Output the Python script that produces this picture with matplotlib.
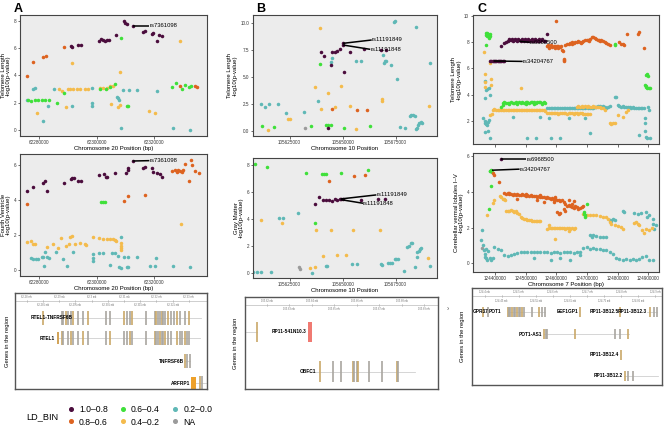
import matplotlib

matplotlib.use("Agg")
import matplotlib.pyplot as plt  # noqa: E402
from matplotlib.lines import Line2D  # noqa: E402
from matplotlib.patches import Rectangle  # noqa: E402

plt.rcParams["font.family"] = ["Liberation Sans", "DejaVu Sans"]

W, H = 666, 432

# ---------------------------------------------------------------------------
# LD bins
# ---------------------------------------------------------------------------
LD_LABELS = ["1.0–0.8", "0.8–0.6", "0.6–0.4", "0.4–0.2", "0.2–0.0", "NA"]
LD_COLORS = ["#4b0d3d", "#dd6320", "#3fe03a", "#f4bb4c", "#5fb8b6", "#9b9b9b"]

# ---------------------------------------------------------------------------
# Panel A: chr20, positions in kb, -log10(p)
# ---------------------------------------------------------------------------
A1_p = [(62291.0, 6.15), (62291.5, 6.05), (62293.4, 6.2), (62294.4, 6.2), (62300.9, 6.51),
        (62301.7, 6.68), (62302.3, 6.59), (62302.9, 6.51), (62303.5, 6.59), (62304.3, 6.59),
        (62306.6, 6.93), (62309.5, 8.0), (62309.9, 7.85), (62310.7, 7.76), (62312.6, 7.61),
        (62316.3, 7.15), (62316.9, 7.27), (62319.2, 7.02), (62319.8, 7.07), (62320.9, 6.51),
        (62321.9, 6.93), (62322.9, 6.9)]
A1_r = [(62275.9, 3.95), (62277.9, 4.98), (62281.4, 5.37), (62282.3, 5.41), (62288.7, 6.05),
        (62329.1, 3.24), (62334.3, 3.22), (62335.1, 3.17)]
A1_g = [(62308.4, 6.76), (62276.2, 2.2), (62277.3, 2.15), (62278.5, 2.2), (62279.7, 2.2),
        (62280.8, 2.2), (62282.0, 2.2), (62283.5, 2.2), (62286.3, 2.0), (62288.6, 2.73),
        (62301.2, 2.98), (62303.3, 2.98), (62304.7, 3.12), (62306.4, 3.37), (62310.5, 1.76),
        (62311.1, 1.76), (62326.2, 3.17), (62327.7, 3.46), (62329.7, 2.98), (62330.8, 3.29),
        (62332.3, 3.12), (62332.9, 3.22)]
A1_o = [(62279.4, 1.27), (62286.9, 2.98), (62287.8, 2.88), (62289.5, 1.71), (62291.6, 4.88),
        (62289.9, 3.0), (62290.9, 3.0), (62291.9, 3.0), (62293.0, 2.98), (62294.2, 2.98),
        (62295.9, 2.98), (62297.1, 2.98), (62301.2, 3.1), (62302.3, 3.1), (62303.7, 3.1),
        (62304.7, 3.2), (62305.6, 3.2), (62305.0, 1.9), (62308.1, 4.27), (62307.6, 1.7),
        (62308.1, 1.83), (62318.4, 1.39), (62320.4, 1.27), (62329.1, 6.51)]
A1_t = [(62275.9, 2.2), (62277.9, 2.98), (62278.5, 3.05), (62281.4, 0.66), (62282.9, 1.76),
        (62285.2, 2.98), (62291.6, 1.76), (62298.3, 1.76), (62298.5, 1.95), (62298.3, 3.05),
        (62307.2, 2.44), (62307.6, 2.32), (62307.9, 2.2), (62308.4, 0.12), (62309.3, 2.93),
        (62311.4, 2.93), (62314.0, 2.93), (62320.9, 2.88), (62326.5, 0.12), (62332.6, 0.0)]
A1_n = []

A2_p = [(62275.9, 4.51), (62277.9, 4.72), (62281.4, 4.95), (62282.0, 5.09), (62282.6, 4.53),
        (62288.7, 4.95), (62291.0, 5.22), (62291.5, 5.26), (62292.1, 5.28), (62293.4, 5.1),
        (62294.5, 5.1), (62300.9, 5.43), (62302.7, 5.47), (62303.3, 5.33), (62303.8, 5.33),
        (62306.4, 5.52), (62310.1, 5.52), (62311.1, 5.71), (62311.1, 5.81), (62312.6, 6.23),
        (62316.1, 5.85), (62316.9, 5.87), (62319.2, 5.81), (62319.8, 5.58), (62320.9, 5.52),
        (62322.1, 5.49), (62322.9, 5.33)]
A2_r = [(62275.9, 3.77), (62309.7, 3.96), (62311.1, 4.23), (62316.9, 4.29), (62326.2, 5.66),
        (62327.3, 5.71), (62327.9, 5.58), (62328.5, 5.71), (62329.1, 5.66), (62329.7, 5.58),
        (62330.0, 5.71), (62330.8, 6.06), (62332.2, 5.09), (62332.9, 6.29), (62333.4, 6.0),
        (62334.3, 5.66), (62335.7, 5.56)]
A2_g = [(62301.7, 3.87), (62302.3, 3.87), (62302.9, 3.87)]
A2_o = [(62275.9, 1.62), (62277.0, 1.66), (62277.9, 1.47), (62278.5, 1.47), (62282.6, 1.33),
        (62284.9, 1.47), (62286.6, 1.28), (62287.6, 1.81), (62289.5, 1.37), (62290.4, 1.47),
        (62290.9, 1.9), (62291.3, 1.94), (62292.4, 1.47), (62294.2, 1.52), (62295.9, 1.47),
        (62296.3, 1.43), (62298.6, 1.87), (62300.9, 1.85), (62302.1, 1.75), (62303.8, 1.75),
        (62304.7, 1.75), (62305.8, 1.75), (62306.4, 1.71), (62306.7, 1.68), (62308.4, 1.52),
        (62308.4, 1.37), (62308.4, 1.24), (62308.4, 1.14), (62329.3, 2.61)]
A2_t = [(62277.0, 0.67), (62277.9, 0.61), (62278.8, 0.61), (62279.7, 0.61), (62280.8, 0.76),
        (62281.4, 0.76), (62282.0, 1.01), (62282.8, 0.76), (62283.5, 0.67), (62281.7, 0.23),
        (62285.8, 1.01), (62288.4, 0.61), (62289.8, 0.23), (62291.9, 1.01), (62298.6, 0.67),
        (62298.6, 0.51), (62298.8, 0.91), (62300.9, 0.99), (62302.3, 0.99), (62304.7, 0.29),
        (62305.5, 0.99), (62306.4, 0.99), (62307.6, 0.8), (62308.4, 1.9), (62307.9, 0.19),
        (62308.4, 0.1), (62309.5, 0.76), (62311.1, 0.76), (62310.5, 0.19), (62311.1, 0.19),
        (62314.0, 0.72), (62318.6, 0.23), (62320.4, 0.23), (62320.7, 0.67), (62326.8, 0.23),
        (62332.6, 0.19)]
A2_n = []

# ---------------------------------------------------------------------------
# Panel B: chr10
# ---------------------------------------------------------------------------
B1_p = [(105639.6, 7.3), (105641.0, 6.99), (105644.3, 6.12), (105645.1, 7.3), (105646.2, 7.3),
        (105647.3, 7.45), (105648.6, 7.58), (105650.2, 8.14), (105650.2, 7.98), (105650.6, 5.5),
        (105653.3, 7.3), (105660.1, 7.58), (105667.9, 7.52), (105670.6, 7.52), (105643.1, 0.28)]
B1_r = [(105645.1, 1.99), (105656.8, 1.93), (105661.6, 1.93)]
B1_g = [(105612.0, 0.43), (105617.6, 0.37), (105634.9, 0.47), (105639.5, 6.21), (105642.3, 0.53),
        (105643.1, 0.53), (105644.3, 0.53), (105650.6, 0.28), (105662.7, 0.43)]
B1_o = [(105614.8, 0.06), (105624.2, 1.12), (105625.0, 1.12), (105636.8, 4.1), (105639.5, 9.53),
        (105639.9, 2.02), (105643.1, 3.54), (105646.2, 2.17), (105649.4, 4.19), (105653.6, 2.3),
        (105656.4, 0.16), (105668.7, 2.8), (105668.7, 2.95), (105690.6, 2.33)]
B1_t = [(105611.3, 2.45), (105613.5, 2.24), (105615.3, 2.45), (105619.5, 2.45), (105623.1, 1.62),
        (105631.6, 1.77), (105638.4, 2.8), (105644.3, 6.43), (105645.0, 6.74), (105656.4, 6.52),
        (105658.8, 6.52), (105669.0, 7.05), (105669.5, 6.33), (105670.1, 6.46), (105670.6, 6.52),
        (105672.6, 6.12), (105674.2, 10.15), (105674.8, 10.22), (105675.8, 4.81), (105676.9, 0.37),
        (105679.5, 0.28), (105681.6, 1.37), (105682.1, 1.46), (105683.2, 1.46), (105684.3, 1.37),
        (105684.7, 9.69), (105685.1, 0.28), (105685.5, 0.53), (105685.8, 0.75), (105686.8, 0.84),
        (105687.6, 0.75), (105691.0, 6.34), (105684.7, 0.12)]
B1_n = [(105632.1, 0.28)]

B2_p = [(105637.1, 5.1), (105638.7, 5.64), (105640.7, 5.4), (105642.3, 5.4), (105643.5, 5.4),
        (105645.0, 5.35), (105646.2, 5.45), (105647.5, 5.4), (105648.6, 5.45), (105649.4, 5.45),
        (105650.2, 5.45), (105658.5, 5.4), (105666.7, 5.45), (105669.8, 5.45)]
B2_r = [(105643.4, 6.81), (105655.2, 7.2), (105660.4, 7.25)]
B2_g = [(105608.5, 8.04), (105614.5, 7.87), (105632.5, 7.43), (105640.2, 7.33), (105641.2, 7.33),
        (105642.0, 7.33), (105649.1, 7.43), (105661.9, 7.62), (105637.1, 3.66)]
B2_o = [(105611.6, 3.91), (105621.4, 3.71), (105634.7, 0.32), (105637.1, 0.4), (105637.4, 3.17),
        (105640.7, 1.24), (105644.7, 3.17), (105647.3, 1.29), (105651.7, 1.29), (105654.7, 3.17),
        (105667.6, 3.17), (105690.2, 1.06)]
B2_t = [(105607.9, 0.07), (105609.6, 0.07), (105611.6, 0.07), (105616.4, 0.07), (105619.8, 4.03),
        (105621.9, 4.03), (105628.9, 4.46), (105635.7, 0.0), (105642.0, 0.5), (105642.6, 0.5),
        (105654.6, 0.62), (105656.9, 0.62), (105667.9, 0.62), (105668.7, 0.57), (105671.4, 0.74),
        (105672.5, 0.74), (105673.4, 0.74), (105674.5, 0.99), (105675.3, 0.99), (105676.1, 0.99),
        (105678.8, 0.15), (105680.5, 1.93), (105681.3, 1.98), (105682.4, 2.18), (105682.7, 2.23),
        (105684.0, 0.45), (105684.9, 1.56), (105685.2, 1.19), (105686.0, 1.61), (105686.6, 1.73),
        (105687.1, 1.81), (105691.0, 0.52)]
B2_n = [(105629.2, 0.4), (105629.7, 0.25)]

# ---------------------------------------------------------------------------
# Panel C: chr7
# ---------------------------------------------------------------------------
C1_p = [(124385, 6.55), (124388, 6.58), (124392, 6.55), (124396, 6.6), (124400, 6.55),
        (124404, 6.57), (124408, 6.55), (124412, 6.58), (124416, 6.55), (124420, 6.56),
        (124425, 6.55), (124430, 6.57), (124419, 7.7), (124430, 7.94), (124436, 8.05),
        (124441, 8.12), (124446, 8.15), (124451, 8.18), (124457, 8.12), (124462, 8.15),
        (124467, 8.18), (124473, 8.12), (124478, 8.15), (124484, 8.1), (124489, 8.15),
        (124495, 8.12), (124500, 8.15), (124505, 8.1), (124511, 8.12), (124516, 8.15),
        (124522, 8.1), (124527, 8.12), (124532, 8.15), (124538, 8.12), (124543, 8.1),
        (124548, 8.12), (124554, 8.15), (124559, 8.1), (124564, 8.12), (124570, 8.63),
        (124444, 8.24), (124454, 8.26), (124465, 8.24), (124476, 8.26), (124487, 8.24),
        (124498, 8.26), (124509, 8.24), (124520, 8.26), (124531, 8.24), (124542, 8.26),
        (124553, 8.24)]
C1_r = [(124570, 7.69), (124575, 7.56), (124581, 7.69), (124586, 7.62), (124591, 7.69),
        (124597, 7.74), (124602, 7.69), (124607, 7.74), (124613, 7.64), (124618, 7.43),
        (124621, 7.31), (124624, 6.72), (124624, 6.54), (124626, 6.62), (124629, 7.82),
        (124634, 7.89), (124640, 7.87), (124645, 7.94), (124650, 8.0), (124656, 7.94),
        (124661, 8.0), (124667, 8.0), (124672, 8.07), (124677, 8.02), (124683, 8.05),
        (124688, 8.07), (124694, 8.15), (124699, 8.15), (124704, 8.2), (124710, 8.25),
        (124715, 8.38), (124720, 8.4), (124726, 8.33), (124731, 8.25), (124736, 8.2),
        (124742, 8.07), (124747, 8.15), (124753, 8.07), (124758, 8.0), (124763, 7.94),
        (124769, 7.87), (124774, 7.82), (124806, 8.0), (124812, 7.89), (124817, 7.89),
        (124822, 7.82), (124831, 8.66), (124865, 8.66), (124871, 8.79), (124885, 7.56),
        (124599, 9.65), (124573, 7.8), (124584, 7.78), (124595, 7.6), (124605, 7.6),
        (124616, 7.7), (124652, 7.85), (124680, 7.95), (124708, 8.1), (124740, 8.15)]
C1_g = [(124369, 8.71), (124371, 8.58), (124374, 8.45), (124376, 8.58), (124379, 8.4),
        (124382, 8.5), (124385, 8.66), (124380, 8.33), (124373, 8.7), (124377, 8.62),
        (124371, 7.82), (124419, 3.1), (124425, 3.35), (124430, 3.48), (124436, 3.35),
        (124441, 3.4), (124446, 3.38), (124451, 3.42), (124457, 3.38), (124462, 3.4),
        (124467, 3.42), (124473, 3.38), (124478, 3.42), (124484, 3.4), (124489, 3.44),
        (124495, 3.4), (124500, 3.42), (124505, 3.44), (124511, 3.4), (124516, 3.45),
        (124522, 3.42), (124527, 3.44), (124532, 3.4), (124538, 3.45), (124543, 3.42),
        (124548, 3.44), (124554, 3.4), (124559, 3.42), (124564, 3.38), (124425, 3.25),
        (124446, 3.3), (124473, 3.3), (124500, 3.32), (124527, 3.32), (124554, 3.3),
        (124790, 7.77), (124792, 7.85), (124892, 5.52), (124895, 5.6), (124899, 5.45),
        (124890, 4.76), (124892, 4.58), (124897, 4.5), (124903, 4.5), (124906, 4.5),
        (124894, 4.65)]
C1_o = [(124363, 7.23), (124366, 5.6), (124366, 5.0), (124368, 4.58), (124382, 6.41),
        (124387, 5.19), (124387, 4.76), (124385, 2.46), (124390, 2.5), (124392, 2.84),
        (124398, 2.88), (124403, 2.84), (124409, 2.86), (124414, 2.84), (124419, 2.86),
        (124425, 2.82), (124430, 2.84), (124436, 2.86), (124441, 2.82), (124446, 2.84),
        (124451, 2.8), (124457, 2.84), (124462, 2.82), (124467, 2.8), (124473, 2.84),
        (124478, 2.82), (124484, 2.8), (124489, 2.84), (124495, 2.82), (124500, 2.8),
        (124505, 2.84), (124511, 2.82), (124516, 2.8), (124522, 2.82), (124527, 2.84),
        (124532, 2.8), (124538, 2.82), (124543, 2.8), (124548, 2.82), (124554, 2.8),
        (124559, 2.82), (124564, 2.78), (124570, 2.62), (124575, 2.58), (124581, 2.62),
        (124586, 2.6), (124591, 2.58), (124597, 2.62), (124602, 2.6), (124607, 2.56),
        (124613, 2.6), (124618, 2.58), (124624, 2.62), (124629, 2.6), (124634, 2.56),
        (124640, 2.6), (124645, 2.58), (124650, 2.6), (124656, 2.56), (124661, 2.6),
        (124667, 2.58), (124672, 2.55), (124677, 2.6), (124683, 2.58), (124688, 2.55),
        (124694, 2.52), (124699, 2.55), (124704, 2.5), (124710, 2.52), (124667, 3.1),
        (124672, 3.12), (124677, 3.08), (124683, 3.12), (124688, 3.1), (124694, 3.14),
        (124699, 3.1), (124704, 3.12), (124710, 3.08), (124715, 3.1), (124720, 3.12),
        (124726, 3.06), (124731, 3.1), (124736, 3.05), (124742, 3.08), (124747, 3.02),
        (124753, 2.95), (124758, 2.85), (124484, 4.5), (124774, 1.82), (124779, 1.8),
        (124785, 1.82), (124790, 1.82), (124801, 2.46), (124817, 2.28), (124826, 2.71),
        (124833, 2.84)]
C1_t = [(124366, 5.06), (124369, 4.37), (124374, 4.42), (124379, 4.5), (124366, 3.73),
        (124385, 3.99), (124362, 2.2), (124366, 2.03), (124368, 1.87), (124371, 1.77),
        (124374, 1.69), (124376, 1.95), (124379, 2.1), (124366, 1.18), (124376, 1.23),
        (124385, 0.67), (124457, 2.33), (124548, 2.33), (124570, 2.98), (124575, 3.02),
        (124581, 2.98), (124586, 3.0), (124591, 3.02), (124597, 2.98), (124602, 3.0),
        (124607, 3.02), (124613, 2.98), (124618, 3.0), (124624, 3.02), (124629, 2.98),
        (124634, 3.0), (124640, 3.02), (124645, 2.98), (124650, 3.0), (124656, 3.02),
        (124661, 2.98), (124667, 3.0), (124672, 2.96), (124677, 3.0), (124683, 2.98),
        (124688, 3.02), (124694, 2.98), (124699, 3.05), (124704, 3.0), (124710, 2.98),
        (124715, 3.02), (124720, 3.0), (124726, 3.05), (124731, 3.1), (124736, 3.12),
        (124742, 3.15), (124747, 3.1), (124753, 3.12), (124758, 3.05), (124763, 3.0),
        (124769, 3.1), (124774, 3.15), (124575, 2.25), (124640, 2.2), (124694, 2.2),
        (124710, 1.06), (124505, 0.72), (124532, 0.67), (124581, 0.72), (124613, 0.67),
        (124790, 3.81), (124796, 3.81), (124801, 3.2), (124806, 3.15), (124812, 3.1),
        (124817, 3.12), (124822, 3.08), (124828, 3.1), (124833, 3.05), (124839, 3.08),
        (124844, 3.02), (124849, 3.05), (124855, 3.0), (124860, 3.02), (124865, 2.98),
        (124871, 3.0), (124876, 2.96), (124881, 3.0), (124887, 2.95), (124871, 0.93),
        (124888, 2.2), (124888, 1.82), (124890, 1.2), (124892, 0.8), (124897, 0.67),
        (124906, 0.67), (124903, 2.84), (124900, 3.05)]
C1_n = []

C2_p = [(124421, 5.81)]
C2_r = [(124392, 5.02), (124398, 4.94), (124414, 4.52), (124430, 3.91), (124436, 3.87),
        (124441, 3.91), (124446, 3.87), (124452, 3.87), (124457, 3.84), (124462, 3.87),
        (124468, 3.82), (124473, 3.87), (124479, 3.82), (124484, 3.84), (124489, 3.87),
        (124495, 3.82), (124500, 3.78), (124505, 3.82), (124511, 3.78), (124516, 3.82),
        (124522, 3.78), (124527, 3.75), (124532, 3.78), (124538, 3.73), (124543, 3.75),
        (124548, 3.69), (124554, 3.73), (124559, 3.69), (124565, 3.66), (124570, 3.69),
        (124575, 3.63), (124581, 3.6), (124586, 3.63), (124591, 3.56), (124597, 3.6),
        (124602, 3.51), (124608, 3.54), (124613, 3.47), (124618, 3.51), (124624, 3.41),
        (124629, 3.32), (124634, 3.23), (124640, 3.27), (124645, 3.18), (124651, 3.14),
        (124656, 3.1), (124661, 3.18), (124667, 3.14), (124672, 3.04), (124677, 3.1),
        (124683, 3.14), (124688, 3.18), (124473, 3.6), (124538, 3.51), (124559, 3.45),
        (124602, 2.86), (124608, 2.77), (124613, 2.8), (124624, 3.04), (124629, 2.95),
        (124640, 3.51), (124656, 3.5), (124446, 3.95), (124500, 3.9), (124548, 3.8),
        (124597, 3.7), (124591, 3.4), (124651, 3.3)]
C2_g = [(124382, 5.17), (124385, 5.13), (124387, 5.2), (124390, 5.11), (124387, 4.3),
        (124379, 3.04), (124691, 2.86), (124693, 2.68), (124695, 2.58), (124689, 2.77),
        (124699, 3.32)]
C2_o = [(124374, 2.68), (124392, 3.36), (124398, 3.51), (124417, 3.78), (124421, 3.69),
        (124425, 3.6), (124430, 3.6), (124433, 3.51), (124436, 2.95), (124441, 2.95),
        (124446, 2.92), (124452, 2.97), (124457, 2.95), (124462, 2.86), (124468, 2.9),
        (124473, 2.8), (124479, 2.77), (124484, 2.58), (124489, 2.53), (124495, 2.49),
        (124500, 2.45), (124505, 2.43), (124511, 2.4), (124516, 2.4), (124522, 2.36),
        (124527, 2.34), (124532, 2.36), (124538, 2.34), (124543, 2.36), (124548, 2.36),
        (124570, 1.94), (124575, 2.0), (124581, 1.97), (124586, 2.0), (124591, 1.97),
        (124597, 2.0), (124602, 1.97), (124608, 2.0), (124613, 1.97), (124618, 2.0),
        (124624, 1.97), (124629, 1.94), (124634, 2.0), (124640, 1.97), (124645, 1.94),
        (124651, 1.97), (124656, 1.94), (124661, 1.97), (124575, 2.12), (124594, 1.38),
        (124640, 1.8), (124688, 2.77), (124699, 2.68), (124710, 2.72), (124720, 2.68),
        (124731, 2.68), (124742, 2.64), (124753, 2.6), (124763, 2.58), (124769, 2.49),
        (124774, 2.31), (124779, 2.21), (124790, 2.12), (124801, 2.07), (124812, 2.03),
        (124817, 1.94), (124855, 2.25), (124860, 2.31), (124865, 2.21), (124871, 2.12),
        (124881, 1.85), (124887, 1.7), (124892, 1.9), (124903, 1.85), (124911, 2.0)]
C2_t = [(124357, 1.85), (124355, 1.29), (124360, 1.01), (124363, 0.74), (124366, 0.55),
        (124368, 0.37), (124371, 0.28), (124374, 0.18), (124371, 0.83), (124376, 0.7),
        (124382, 0.28), (124387, 0.18), (124392, 0.28), (124398, 0.92), (124409, 0.83),
        (124419, 0.74), (124430, 0.46), (124441, 0.4), (124452, 0.46), (124462, 0.55),
        (124473, 0.6), (124484, 0.65), (124495, 0.62), (124505, 0.65), (124516, 0.62),
        (124527, 0.65), (124538, 0.62), (124548, 0.65), (124559, 0.62), (124570, 0.65),
        (124581, 0.6), (124591, 0.65), (124602, 0.62), (124613, 0.6), (124624, 0.65),
        (124634, 0.62), (124645, 0.65), (124656, 0.6), (124667, 0.65), (124677, 0.62),
        (124688, 0.87), (124699, 0.9), (124710, 0.83), (124720, 0.87), (124731, 0.83),
        (124742, 0.8), (124753, 0.74), (124763, 0.74), (124774, 0.65), (124785, 0.55),
        (124796, 0.28), (124806, 0.22), (124817, 0.2), (124828, 0.22), (124839, 0.18),
        (124849, 0.22), (124860, 0.2), (124871, 0.22), (124881, 0.37), (124892, 0.4),
        (124903, 0.2), (124914, 0.2), (124527, 0.28), (124581, 0.18), (124613, 0.28),
        (124645, 0.18), (124677, 0.45), (124709, 1.57), (124715, 1.5), (124720, 1.57),
        (124731, 1.53), (124742, 1.5), (124753, 1.48), (124763, 1.45), (124774, 2.4),
        (124779, 2.36), (124785, 2.49), (124790, 2.4), (124817, 2.95), (124822, 2.86),
        (124855, 2.8), (124865, 2.77), (124876, 2.84), (124892, 2.86), (124897, 2.58),
        (124903, 2.68), (124914, 2.49), (124916, 2.21), (124919, 1.94), (124924, 2.12)]
C2_n = [(124356, 0.87)]

# ---------------------------------------------------------------------------
# Gene tracks (positions in Mb)
# ---------------------------------------------------------------------------
A_gene_names = ["RTEL1-TNFRSF6B", "RTEL1", "TNFRSF6B", "ARFRP1"]
A_gene_rows = [0.26, 0.47, 0.71, 0.94]
A_gene_label_x = [62.2942, 62.2888, 62.3284, 62.3303]
A_gene_spans = [(62.2841, 62.3339), (62.2897, 62.3334), (62.3287, 62.3303), (62.3306, 62.3354)]
A_gene_exons = [
    [62.2849, 62.2908, 62.2913, 62.2921, 62.2928, 62.2936, 62.2942, 62.2959, 62.2974, 62.2990,
     62.3044, 62.3057, 62.3100, 62.3108, 62.3118, 62.3126, 62.3169, 62.3195, 62.3200, 62.3205,
     62.3210, 62.3216, 62.3221, 62.3226, 62.3236, 62.3246, 62.3253, 62.3262, 62.3272, 62.3287,
     62.3301],
    [62.2908, 62.2913, 62.2928, 62.2936, 62.2942, 62.2959, 62.2974, 62.2990, 62.3044, 62.3057,
     62.3100, 62.3108, 62.3118, 62.3126, 62.3169, 62.3195, 62.3200, 62.3205, 62.3210, 62.3216,
     62.3221, 62.3226, 62.3236, 62.3246, 62.3262, 62.3272, 62.3280, 62.3287, 62.3295, 62.3301],
    [62.3287, 62.3295, 62.3303],
    [62.3334, 62.3342],
]
A_gene_blocks = [(62.2893, 62.2901, 1), (62.3306, 62.3323, 3)]
A_scale = [62.28, 62.285, 62.29, 62.295, 62.30, 62.305, 62.31, 62.315, 62.32, 62.325, 62.33]

B_gene_names = ["RP11-541N10.3", "OBFC1"]
B_gene_rows = [0.38, 0.81]
B_gene_label_x = [105.6376, 105.6422]
B_gene_spans = [(105.6107, 105.6159), (105.6378, 105.6859)]
B_gene_exons = [
    [105.6159],
    [105.6437, 105.6496, 105.6529, 105.6582, 105.6589, 105.6600, 105.6607, 105.6656, 105.6711,
     105.6780, 105.6785],
]
B_gene_blocks = [(105.6382, 105.6403, 0)]
B_scale = [105.62, 105.63, 105.64, 105.65, 105.66, 105.67, 105.68, 105.69]

C_gene_names = ["GPR37", "POT1", "EEF1GP1", "RP11-3B12.5", "RP11-3B12.3",
                "POT1-AS1", "RP11-3B12.4", "RP11-3B12.2"]
C_gene_rows = [0.245, 0.245, 0.245, 0.245, 0.245, 0.477, 0.69, 0.907]
C_gene_label_x = [124.3664, 124.4502, 124.6756, 124.7927, 124.8737, 124.5683, 124.7927, 124.8054]
C_gene_spans = [(124.3946, 124.4102), (124.4678, 124.5761), (124.6785, 124.6785),
                (124.7976, 124.7976), (124.8756, 124.9049), (124.5732, 124.8220),
                (124.8005, 124.8005), (124.8073, 124.9068)]
C_gene_exons = [
    [124.3946, 124.4102],
    [124.4678, 124.4707, 124.4756, 124.4805, 124.4854, 124.4902, 124.4951, 124.5000, 124.5049,
     124.5098, 124.5166, 124.5390, 124.5585, 124.5683, 124.5761],
    [124.6785],
    [124.7976],
    [124.8834, 124.8971, 124.9049],
    [124.5751, 124.5790, 124.5829, 124.6639, 124.7810, 124.7956, 124.8200],
    [124.8005],
    [124.8122, 124.8200, 124.8346],
]
C_gene_blocks = []
C_scale = [124.40, 124.45, 124.50, 124.55, 124.60, 124.65, 124.70, 124.75, 124.80, 124.85, 124.90]

PANEL_BG = "#ececec"
EXON_TAN = "#c9a868"
EXON_GRAY = "#a9a6a0"
BLOCK_COLORS = ["#f07a72", "#d2a45a", "#d2a45a", "#eea12a"]


def px_rect(left, top, right, bottom):
    return [left / W, 1 - bottom / H, (right - left) / W, (bottom - top) / H]


def manhattan(ax, groups, xlim, ylim, xticks, yticks, ylabel, xlabel=None, show_xlabels=True):
    ax.set_facecolor(PANEL_BG)
    # purple drawn last so the lead SNP cluster sits on top
    for pts, col in reversed(list(zip(groups, LD_COLORS))):
        if not pts:
            continue
        ax.scatter([p[0] * 1000 for p in pts], [p[1] for p in pts],
                   s=6.5, color=col, linewidths=0, zorder=2)
    ax.set_xlim(xlim[0] * 1000, xlim[1] * 1000)
    ax.set_ylim(*ylim)
    ax.set_xticks([t * 1000 for t in xticks])
    if show_xlabels:
        ax.set_xticklabels([str(int(t * 1000)) for t in xticks])
    else:
        ax.set_xticklabels([])
    ax.set_yticks(yticks)
    if isinstance(yticks[1], float):
        ax.set_yticklabels([f"{t:.1f}" for t in yticks])
    else:
        ax.set_yticklabels([str(t) for t in yticks])
    ax.tick_params(labelsize=3.3, length=1.8, width=0.5, pad=1, colors="#333333")
    for s in ax.spines.values():
        s.set_color("#444444")
        s.set_linewidth(0.8)
    ax.set_ylabel(ylabel, fontsize=4.3, labelpad=2, linespacing=1.05)
    if xlabel:
        ax.set_xlabel(xlabel, fontsize=4.3, labelpad=1)


def tag(ax, x0, y0, x1, y1, text):
    ax.plot([x0 * 1000, x1 * 1000], [y0, y1], color="black", lw=1.1, zorder=3,
            solid_capstyle="butt")
    ax.text(x1 * 1000, y1, text, fontsize=4.2, va="center", ha="left", zorder=4)


def gene_track(ax, names, rows, label_x, spans, exons, blocks, scale, xlim, ylabel_x,
               half=0.075, block_half=0.075):
    ax.set_xlim(*xlim)
    ax.set_ylim(1, 0)
    ax.set_xticks([])
    ax.set_yticks([])
    for s in ax.spines.values():
        s.set_color("#555555")
        s.set_linewidth(1.0)
    # scale bar on top
    ax.axhline(0.085, color="#bbbbbb", lw=0.5)
    for i, pos in enumerate(scale):
        yy = 0.04 if i % 2 == 0 else 0.13
        ax.text(pos, yy, f"{pos:g} mb", fontsize=1.9, ha="center", va="center", color="#777777")
        ax.plot([pos, pos], [0.075, 0.095], color="#aaaaaa", lw=0.4)
    for k, name in enumerate(names):
        y = rows[k]
        ax.plot(spans[k], [y, y], color="#cfcfcf", lw=0.6, zorder=1)
        ax.vlines(exons[k], y - half, y + half,
                  colors=[EXON_TAN if j % 3 == 0 else EXON_GRAY for j in range(len(exons[k]))],
                  lw=1.2, zorder=2)
        ax.text(label_x[k], y, name, fontsize=3.4, fontweight="bold", ha="right", va="center",
                zorder=3)
    for x0, x1, k in blocks:
        ax.add_patch(Rectangle((x0, rows[k] - block_half), x1 - x0, 2 * block_half,
                               color=BLOCK_COLORS[k], zorder=2, lw=0))
    ax.text(ylabel_x, 0.5, "Genes in the region", transform=ax.transAxes, rotation=90,
            fontsize=4.2, ha="center", va="center")


fig = plt.figure(figsize=(W / 100, H / 100), dpi=100)

# ---- Panel A ----
axA1 = fig.add_axes(px_rect(20, 15, 207, 136))
manhattan(axA1, [A1_p, A1_r, A1_g, A1_o, A1_t, A1_n], (62273.3, 62338.5), (-0.44, 8.41),
          [62280, 62300, 62320], [0, 2, 4, 6, 8], "Telomere Length\n-log10(p-value)",
          "Chromosome 20 Position (bp)")
tag(axA1, 62312.6, 7.61, 62318.4, 7.61, "rs7361098")

axA2 = fig.add_axes(px_rect(20, 154, 207, 276))
manhattan(axA2, [A2_p, A2_r, A2_g, A2_o, A2_t, A2_n], (62273.3, 62338.5), (-0.34, 6.63),
          [62280, 62300, 62320], [0, 2, 4, 6], "Fourth Ventricle\n-log10(p-value)",
          "Chromosome 20 Position (bp)")
tag(axA2, 62312.6, 6.23, 62318.4, 6.25, "rs7361098")

axAg = fig.add_axes(px_rect(15, 293, 207, 389))
gene_track(axAg, A_gene_names, A_gene_rows, A_gene_label_x, A_gene_spans, A_gene_exons,
           A_gene_blocks, A_scale, (62.2764, 62.3356), -0.04, half=0.075, block_half=0.065)

# ---- Panel B ----
axB1 = fig.add_axes(px_rect(253, 15, 437, 136))
manhattan(axB1, [B1_p, B1_r, B1_g, B1_o, B1_t, B1_n], (105607.7, 105694.5), (-0.5, 10.78),
          [105625, 105650, 105675], [0.0, 2.5, 5.0, 7.5, 10.0], "Telomere Length\n-log10(p-value)",
          "Chromosome 10 Position")
tag(axB1, 105650.2, 8.14, 105663.7, 8.45, "rs11191849")
tag(axB1, 105650.2, 7.98, 105663.0, 7.58, "rs11191848")

axB2 = fig.add_axes(px_rect(253, 158, 437, 278))
manhattan(axB2, [B2_p, B2_r, B2_g, B2_o, B2_t, B2_n], (105607.7, 105694.5), (-0.4, 8.51),
          [105625, 105650, 105675], [0, 2, 4, 6, 8], "Gray Matter\n-log10(p-value)",
          "Chromosome 10 Position")
tag(axB2, 105649.1, 5.47, 105665.9, 5.77, "rs11191849")
tag(axB2, 105649.1, 5.42, 105659.6, 5.15, "rs11191848")

axBg = fig.add_axes(px_rect(245, 297, 438, 389))
gene_track(axBg, B_gene_names, B_gene_rows, B_gene_label_x, B_gene_spans, B_gene_exons,
           B_gene_blocks, B_scale, (105.6104, 105.6962), -0.05, half=0.11, block_half=0.11)

# ---- Panel C ----
axC1 = fig.add_axes(px_rect(473, 15, 659, 144))
manhattan(axC1, [C1_p, C1_r, C1_g, C1_o, C1_t, C1_n], (124328, 124935), (0.24, 10.08),
          [124400, 124500, 124600, 124700, 124800, 124900], [2, 4, 6, 8, 10],
          "Telomere Length\n-log10(p-value)", show_xlabels=False)
tag(axC1, 124480, 8.07, 124513, 8.0, "rs6968500")
tag(axC1, 124395, 6.57, 124490, 6.54, "rs34204767")

axC2 = fig.add_axes(px_rect(473, 153, 659, 272))
manhattan(axC2, [C2_p, C2_r, C2_g, C2_o, C2_t, C2_n], (124328, 124935), (-0.48, 6.16),
          [124400, 124500, 124600, 124700, 124800, 124900], [0, 2, 4, 6],
          "Cerebellar vermal lobules I–V\n-log10(p-value)", "Chromosome 7 Position (bp)")
tag(axC2, 124421, 5.81, 124502, 5.81, "rs6968500")
tag(axC2, 124390, 5.2, 124480, 5.26, "rs34204767")

axCg = fig.add_axes(px_rect(472, 288, 662, 385))
gene_track(axCg, C_gene_names, C_gene_rows, C_gene_label_x, C_gene_spans, C_gene_exons,
           C_gene_blocks, C_scale, (124.3634, 124.9195), -0.05, half=0.05)
# first label in C sits at the left border
axCg.texts[[t.get_text() for t in axCg.texts].index("GPR37")].set_ha("left")

# panel letters
for letter, x in [("A", 14), ("B", 256), ("C", 477)]:
    fig.text(x / W, 1 - 9 / H, letter, fontsize=9, fontweight="bold", va="center", ha="left")
fig.text(448 / W, 1 - 309 / H, "›", fontsize=5, va="center", ha="center", color="#555555")

# legend
fig.text(26 / W, 1 - 417 / H, "LD_BIN", fontsize=6.6, va="center", ha="left")
handles = [Line2D([], [], marker="o", ls="", color=c, markersize=2.6) for c in LD_COLORS]
fig.legend(handles, LD_LABELS, ncol=3, loc="center left", bbox_to_anchor=(66 / W, 1 - 416 / H),
           frameon=False, fontsize=6.2, handletextpad=0.3, columnspacing=1.2,
           labelspacing=0.35, handlelength=1.2, borderpad=0, borderaxespad=0)

fig.savefig("out.png", dpi=100)
